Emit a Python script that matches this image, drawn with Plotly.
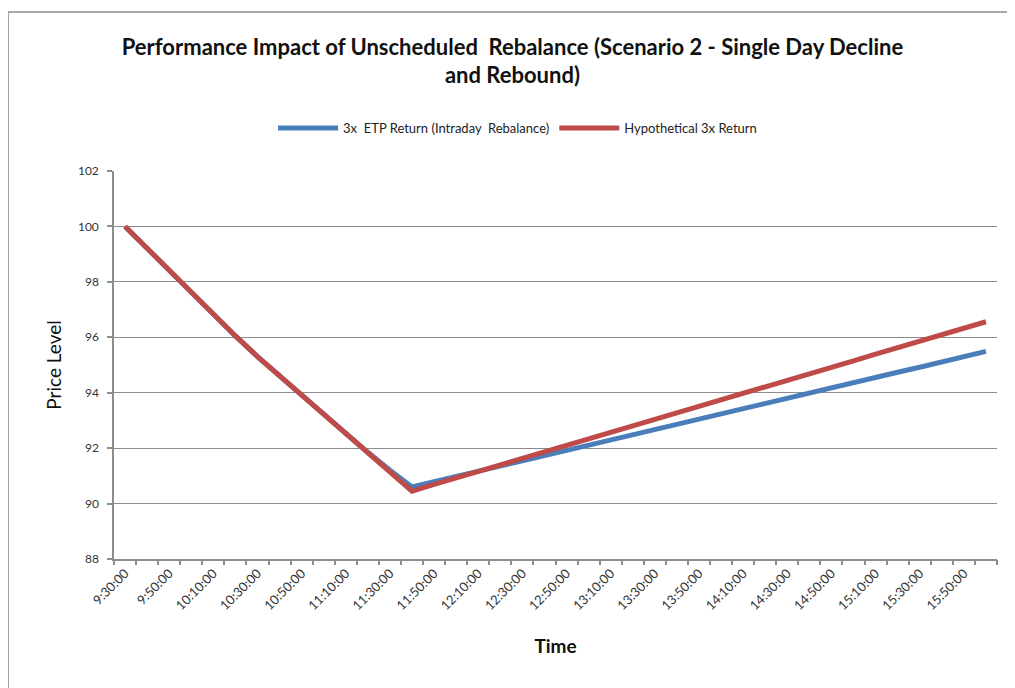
import plotly.graph_objects as go

# Categories: 10-minute intervals from 9:30 to 16:00
times = ["9:30:00", "9:40:00", "9:50:00", "10:00:00", "10:10:00", "10:20:00", "10:30:00",
         "10:40:00", "10:50:00", "11:00:00", "11:10:00", "11:20:00", "11:30:00", "11:40:00",
         "11:50:00", "12:00:00", "12:10:00", "12:20:00", "12:30:00", "12:40:00", "12:50:00",
         "13:00:00", "13:10:00", "13:20:00", "13:30:00", "13:40:00", "13:50:00", "14:00:00",
         "14:10:00", "14:20:00", "14:30:00", "14:40:00", "14:50:00", "15:00:00", "15:10:00",
         "15:20:00", "15:30:00", "15:40:00", "15:50:00", "16:00:00"]

etp_return = [100.0, 99.2, 98.4, 97.6, 96.8, 96.05, 95.3, 94.6, 93.9, 93.2, 92.5, 91.85, 91.2, 90.6,
              90.79, 90.98, 91.16, 91.35, 91.54, 91.73, 91.92, 92.10, 92.29, 92.48, 92.67, 92.86,
              93.04, 93.23, 93.42, 93.61, 93.80, 93.98, 94.17, 94.36, 94.55, 94.74, 94.92, 95.11,
              95.30, 95.49]

hypo_return = [100.0, 99.2, 98.4, 97.6, 96.8, 96.05, 95.3, 94.6, 93.9, 93.2, 92.5, 91.85, 91.15, 90.45,
               90.69, 90.92, 91.16, 91.39, 91.63, 91.86, 92.10, 92.33, 92.57, 92.80, 93.04, 93.27,
               93.51, 93.74, 93.98, 94.21, 94.45, 94.68, 94.92, 95.15, 95.39, 95.62, 95.86, 96.09,
               96.33, 96.56]

series_names = ["3x  ETP Return (Intraday  Rebalance)", "Hypothetical 3x Return"]
title_text = "Performance Impact of Unscheduled  Rebalance (Scenario 2 - Single Day Decline<br>and Rebound)"

idx = list(range(len(times)))
label_idx = idx[::2]
label_text = [times[i] for i in label_idx]
boundaries = [i - 0.5 for i in range(len(times) + 1)]

BLUE = "#4A7EBB"
RED = "#BE4B48"
GRID = "#8C8C8C"
FONT = "Lato"

fig = go.Figure()
fig.add_trace(go.Scatter(x=idx, y=etp_return, mode="lines", name=series_names[0],
                         line=dict(color=BLUE, width=5)))
fig.add_trace(go.Scatter(x=idx, y=hypo_return, mode="lines", name=series_names[1],
                         line=dict(color=RED, width=5)))
# helper trace for boundary tick axis
fig.add_trace(go.Scatter(x=[idx[0]], y=[etp_return[0]], xaxis="x2", mode="markers",
                         marker=dict(opacity=0), showlegend=False, hoverinfo="skip"))

fig.update_layout(
    width=1015, height=688,
    paper_bgcolor="white", plot_bgcolor="white",
    margin=dict(l=106, r=26, t=163, b=137),
    font=dict(family=FONT, color="#333333"),
    title=dict(text=title_text, x=0.497, xanchor="center", y=0.932, yanchor="middle",
               font=dict(family=FONT, size=22, color="#111111", weight="bold")),
    showlegend=True,
    legend=dict(orientation="h", x=0.457, xanchor="center", y=1.111, yanchor="middle",
                font=dict(family=FONT, size=13, color="#222222"), itemwidth=60,
                traceorder="normal"),
    xaxis=dict(range=[-0.5, len(times) - 0.5], tickmode="array", tickvals=label_idx,
               ticktext=label_text, tickangle=-45, ticks="", showgrid=False,
               showline=True, linecolor=GRID, linewidth=1.5, zeroline=False,
               tickfont=dict(family=FONT, size=13, color="#333333"),
               title=dict(text="<b>Time</b>", font=dict(family=FONT, size=19, color="#111111"), standoff=28)),
    xaxis2=dict(range=[-0.5, len(times) - 0.5], overlaying="x", anchor="y", side="bottom",
                tickmode="array", tickvals=boundaries, ticks="outside", ticklen=5,
                tickcolor=GRID, tickwidth=1.5, showticklabels=False, showgrid=False,
                showline=False, zeroline=False),
    yaxis=dict(range=[88, 102], dtick=2, showgrid=True, gridcolor=GRID, gridwidth=1.3,
               showline=True, linecolor=GRID, linewidth=1.5, zeroline=False,
               ticks="outside", ticklen=5, tickcolor=GRID, tickwidth=1.5,
               ticklabelstandoff=6,
               tickfont=dict(family=FONT, size=12, color="#333333"),
               title=dict(text="Price Level", font=dict(family=FONT, size=19, color="#111111"), standoff=11)),
    shapes=[
        dict(type="line", xref="paper", yref="paper", x0=-0.12, x1=1.1, y0=1.41, y1=1.41,
             line=dict(color="#8C8C8C", width=1.5)),
        dict(type="line", xref="paper", yref="paper", x0=-0.12, x1=-0.12, y0=-0.4, y1=1.41,
             line=dict(color="#8C8C8C", width=1.5)),
    ],
)

fig.write_html("out.html")
